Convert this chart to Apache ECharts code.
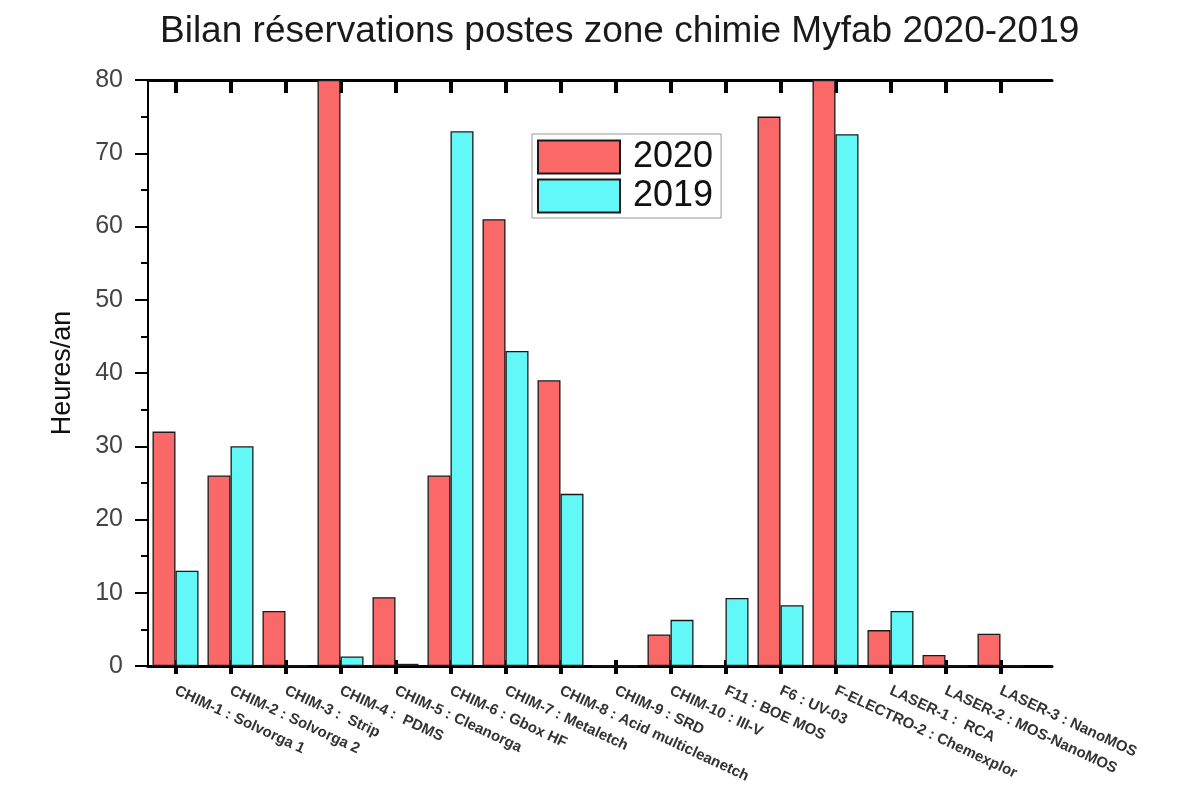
<!DOCTYPE html>
<html>
<head>
<meta charset="utf-8">
<title>Bilan réservations postes zone chimie Myfab 2020-2019</title>
<script src="https://cdn.jsdelivr.net/npm/echarts@6/dist/echarts.min.js"></script>
<style>
  html, body { margin: 0; padding: 0; background: #fff; }
  #chart { width: 1184px; height: 796px; }
</style>
</head>
<body>
<div id="chart"></div>
<script>
// postes (categories)
var postes = [
  "CHIM-1 : Solvorga 1",
  "CHIM-2 : Solvorga 2",
  "CHIM-3 :  Strip",
  "CHIM-4 :  PDMS",
  "CHIM-5 : Cleanorga",
  "CHIM-6 : Gbox HF",
  "CHIM-7 : Metaletch",
  "CHIM-8 : Acid multicleanetch",
  "CHIM-9 : SRD",
  "CHIM-10 : III-V",
  "F11 : BOE MOS",
  "F6 : UV-03",
  "F-ELECTRO-2 : Chemexplor",
  "LASER-1 :  RCA",
  "LASER-2 : MOS-NanoMOS",
  "LASER-3 : NanoMOS"
];
// heures/an
var heures2020 = [32, 26, 7.5, 80, 9.4, 26, 61, 39, 0, 4.3, 0, 75, 80, 4.9, 1.5, 4.4];
var heures2019 = [13, 30, 0, 1.3, 0.3, 73, 43, 23.5, 0, 6.3, 9.3, 8.3, 72.6, 7.5, 0, 0];
var seriesNames = ["2020", "2019"];

var FONT = "'Liberation Sans', Arial, sans-serif";

var chart = echarts.init(document.getElementById("chart"));
var option = {
  backgroundColor: "#fff",
  animation: false,
  title: {
    text: "Bilan réservations postes zone chimie Myfab 2020-2019",
    left: 155,
    top: 8,
    textStyle: { fontFamily: FONT, fontSize: 37, fontWeight: "normal", color: "#1a1a1a" }
  },
  legend: {
    data: seriesNames,
    orient: "vertical",
    left: 532,
    top: 134,
    itemWidth: 82,
    itemHeight: 33,
    itemGap: 3,
    padding: [5, 8, 4, 5],
    borderColor: "#999",
    borderWidth: 1,
    icon: "rect",
    textStyle: { fontFamily: FONT, fontSize: 36, color: "#111", padding: [0, 0, 0, 8] }
  },
  grid: [
    // bars
    { left: 148, right: 156, top: 80, bottom: 130 },
    // frame up to the right border
    { left: 148, right: 132, top: 80, bottom: 130 },
    // inner part of the bottom ticks
    { left: 148, right: 156, top: 80, bottom: 130 }
  ],
  xAxis: [
    {
      type: "category",
      gridIndex: 0,
      data: postes,
      position: "bottom",
      axisLine: { show: true, lineStyle: { color: "#000", width: 3 } },
      axisTick: { show: true, interval: 0, alignWithLabel: true, length: 8, lineStyle: { color: "#000", width: 4 } },
      axisLabel: {
        interval: 0,
        rotate: -25,
        margin: 24,
        fontFamily: FONT,
        fontSize: 15,
        fontWeight: "bold",
        color: "#333"
      },
      splitLine: { show: false }
    },
    {
      type: "category",
      gridIndex: 0,
      data: postes,
      position: "top",
      axisLine: { show: false },
      axisTick: { show: true, interval: 0, inside: true, alignWithLabel: true, length: 13, lineStyle: { color: "#000", width: 4 } },
      axisLabel: { show: false },
      splitLine: { show: false }
    },
    {
      type: "value",
      gridIndex: 1,
      position: "bottom",
      min: 0,
      max: 1,
      axisLine: { show: true, lineStyle: { color: "#000", width: 3 } },
      axisTick: { show: false },
      axisLabel: { show: false },
      splitLine: { show: false }
    },
    {
      type: "value",
      gridIndex: 1,
      position: "top",
      min: 0,
      max: 1,
      axisLine: { show: true, lineStyle: { color: "#000", width: 3 } },
      axisTick: { show: false },
      axisLabel: { show: false },
      splitLine: { show: false }
    },
    {
      type: "category",
      gridIndex: 2,
      data: postes,
      position: "bottom",
      axisLine: { show: false },
      axisTick: { show: true, interval: 0, inside: true, alignWithLabel: true, length: 6, lineStyle: { color: "#000", width: 4 } },
      axisLabel: { show: false },
      splitLine: { show: false }
    }
  ],
  yAxis: [
    {
      type: "value",
      gridIndex: 0,
      min: 0,
      max: 80,
      interval: 10,
      name: "Heures/an",
      nameLocation: "middle",
      nameRotate: 90,
      nameGap: 72,
      nameTextStyle: { fontFamily: FONT, fontSize: 27, color: "#111" },
      axisLine: { show: true, lineStyle: { color: "#000", width: 2 } },
      axisTick: { show: true, length: 13, lineStyle: { color: "#000", width: 2 } },
      minorTick: { show: true, splitNumber: 2, length: 7, lineStyle: { color: "#000", width: 2 } },
      axisLabel: { margin: 25, fontFamily: FONT, fontSize: 25, color: "#444" },
      splitLine: { show: false }
    },
    {
      type: "value",
      gridIndex: 1,
      position: "right",
      min: 0,
      max: 80,
      interval: 10,
      axisLine: { show: true, lineStyle: { color: "#000", width: 2 } },
      axisTick: { show: true, inside: true, length: 13, lineStyle: { color: "#000", width: 2 } },
      minorTick: { show: true, splitNumber: 2, length: 7, lineStyle: { color: "#000", width: 2 } },
      axisLabel: { show: false },
      splitLine: { show: false }
    },
    {
      type: "value",
      gridIndex: 2,
      min: 0,
      max: 80,
      show: false
    }
  ],
  series: [
    {
      name: seriesNames[0],
      type: "bar",
      xAxisIndex: 0,
      yAxisIndex: 0,
      barWidth: 23,
      barGap: "0%",
      itemStyle: { color: "#fa6868", borderColor: "#1a1a1a", borderWidth: 1.3 },
      data: heures2020
    },
    {
      name: seriesNames[1],
      type: "bar",
      xAxisIndex: 0,
      yAxisIndex: 0,
      barWidth: 23,
      barGap: "0%",
      itemStyle: { color: "#62f8f8", borderColor: "#1a1a1a", borderWidth: 1.3 },
      data: heures2019
    }
  ]
};
chart.setOption(option);
</script>
</body>
</html>
